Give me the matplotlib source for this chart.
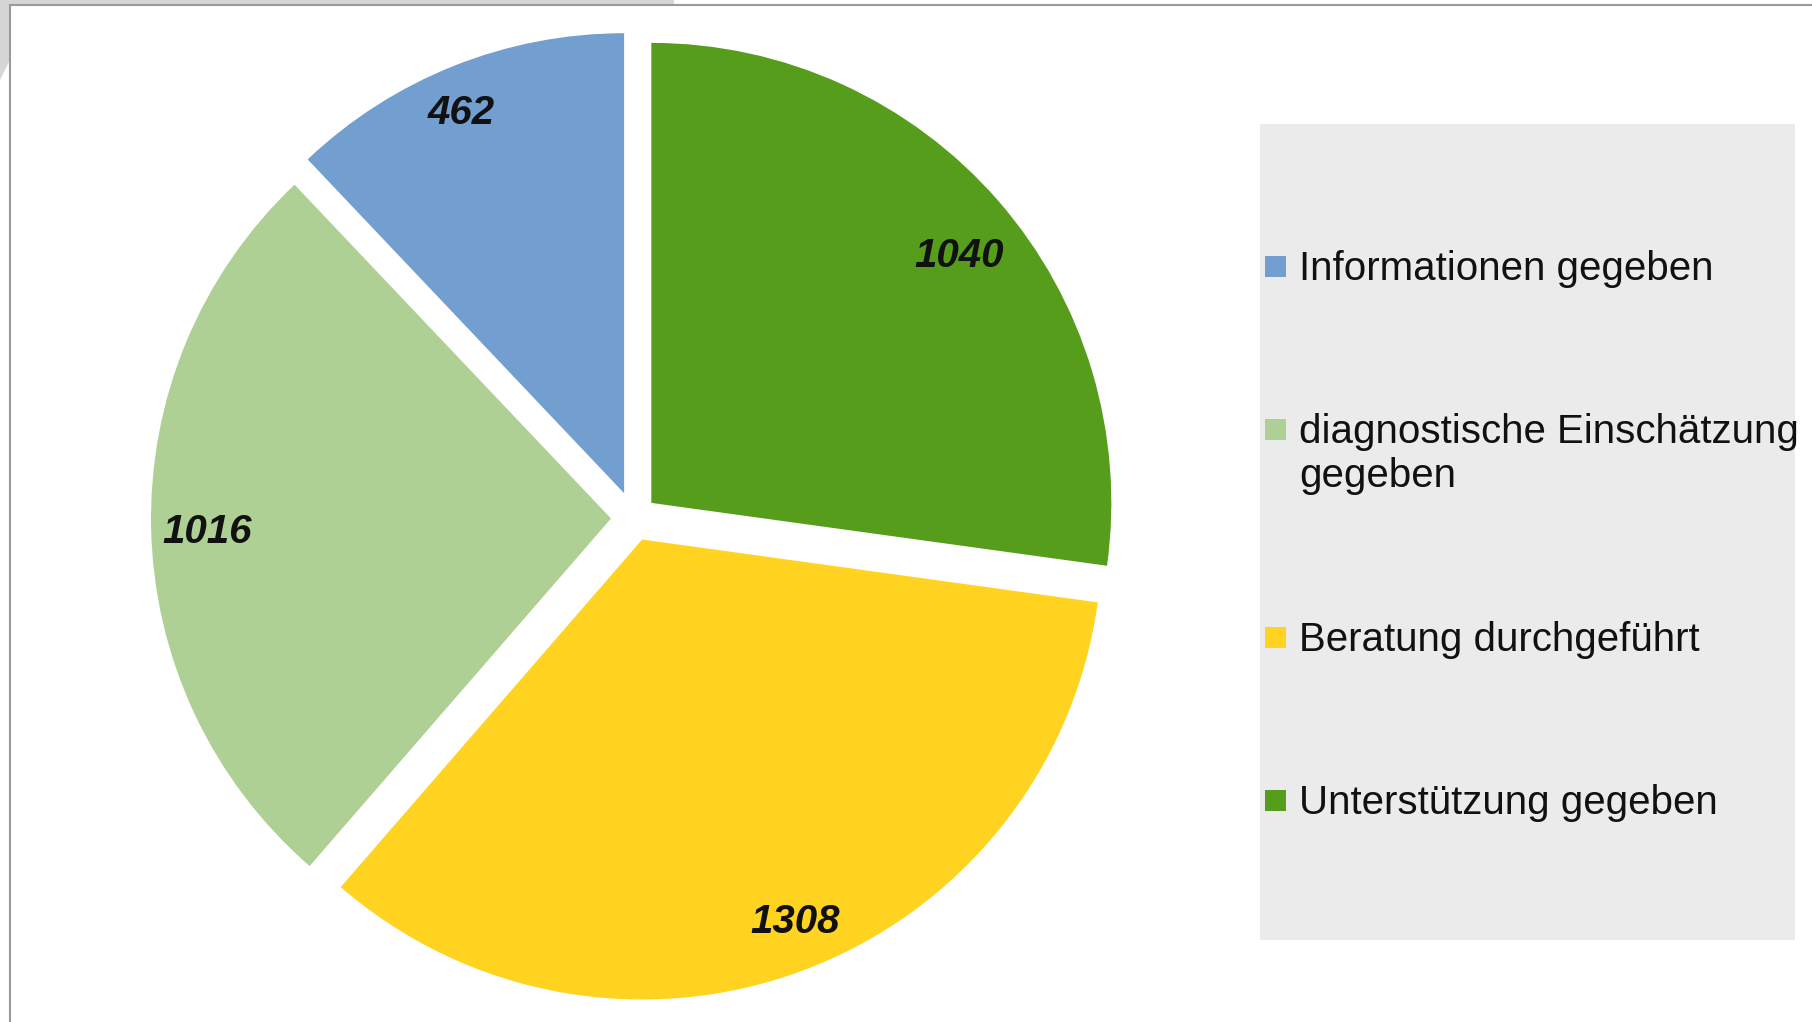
import numpy as np
import matplotlib
matplotlib.use("Agg")
import matplotlib.pyplot as plt
from matplotlib.patches import Rectangle, Polygon
from matplotlib.lines import Line2D

plt.rcParams['font.family'] = ['Liberation Sans', 'DejaVu Sans']

categories = ["Informationen gegeben", "diagnostische Einschätzung\ngegeben",
              "Beratung durchgeführt", "Unterstützung gegeben"]
values = [462, 1016, 1308, 1040]
colors = ["#729fcf", "#afd095", "#ffd320", "#579d1c"]

# style: slice offsets and label placement (distance from exploded wedge centre, angle tweak)
explode = [0.058, 0.05, 0.05, 0.05]
label_dist = [0.908, 0.878, 0.888, 0.864]
label_rot = [1.15, 0.1, 1.4, -1.9]

W, H = 1812, 1022
fig = plt.figure(figsize=(W / 100, H / 100), dpi=100)
fig.patch.set_facecolor("white")

def fx(px):
    return px / W

def fy(py):
    return 1 - py / H

# pie axes: center (634, 518) px, radius 460 px
cx, cy, R = 634, 518, 460
L = 1.1
half = L * R
ax = fig.add_axes([fx(cx - half), fy(cy + half), 2 * half / W, 2 * half / H])

total = sum(values)
wedges, texts, autotexts = ax.pie(
    values, colors=colors, startangle=90, counterclock=True,
    explode=explode, radius=1.0,
    wedgeprops=dict(linewidth=0),
    autopct=lambda p: f"{round(p * total / 100)}", pctdistance=0.89,
    textprops=dict(fontsize=29, fontweight="bold", fontstyle="italic", color="#111111"),
)
for w, t, d, rot in zip(wedges, autotexts, label_dist, label_rot):
    ang = np.deg2rad((w.theta1 + w.theta2) / 2 + rot)
    x0, y0 = w.center
    t.set_position((x0 + d * np.cos(ang), y0 + d * np.sin(ang) - 0.009))
ax.set_xlim(-L, L)
ax.set_ylim(-L, L)
ax.axis("off")

# legend box
lx0, ly0, lx1, ly1 = 1260, 124, 1795, 940
fig.add_artist(Rectangle((fx(lx0), fy(ly1)), fx(lx1 - lx0), (ly1 - ly0) / H,
                         transform=fig.transFigure, facecolor="#ebebeb", edgecolor="none"))
text_y = [269, 454, 640, 803]
marker_y = [266, 430, 637, 800]
for cat, col, ty, my in zip(categories, colors, text_y, marker_y):
    fig.add_artist(Rectangle((fx(1265), fy(my + 10.5)), fx(21), 21 / H,
                             transform=fig.transFigure, facecolor=col, edgecolor="none"))
    fig.text(fx(1299), fy(ty), cat, fontsize=29, color="#111111", va="center", ha="left",
             linespacing=1.17)

# screenshot frame
fig.add_artist(Polygon([[fx(0), fy(0)], [fx(674), fy(0)], [fx(674), fy(5)], [fx(10), fy(5)],
                        [fx(10), fy(60)], [fx(0), fy(80)]],
                       closed=True, transform=fig.transFigure, facecolor="#d6d6d6", edgecolor="none"))
fig.add_artist(Line2D([fx(10), fx(W)], [fy(5), fy(5)], transform=fig.transFigure,
                      color="#9a9a9a", linewidth=1.5))
fig.add_artist(Line2D([fx(10), fx(10)], [fy(5), fy(H)], transform=fig.transFigure,
                      color="#9a9a9a", linewidth=1.5))

fig.savefig("out.png", dpi=100)
